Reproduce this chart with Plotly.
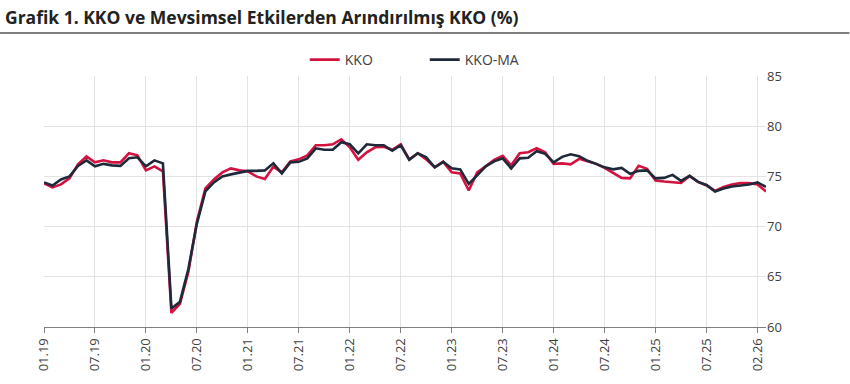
import plotly.graph_objects as go

tick_labels = ["01.19", "07.19", "01.20", "07.20", "01.21", "07.21", "01.22", "07.22",
               "01.23", "07.23", "01.24", "07.24", "01.25", "07.25", "02.26"]
tick_positions = list(range(0, 85, 6))

kko = [74.3, 73.9, 74.2, 74.8, 76.2, 77.0, 76.4, 76.6, 76.4, 76.4,
       77.3, 77.1, 75.6, 76.0, 75.5, 61.4, 62.3, 65.5, 70.5, 73.8,
       74.7, 75.4, 75.8, 75.6, 75.5, 75.0, 74.75, 75.95, 75.4, 76.5,
       76.7, 77.1, 78.1, 78.1, 78.2, 78.7, 77.9, 76.65, 77.4, 77.9,
       77.95, 77.65, 78.2, 76.7, 77.3, 76.7, 75.9, 76.45, 75.4, 75.3,
       73.6, 75.4, 76.0, 76.65, 77.05, 76.1, 77.3, 77.4, 77.8, 77.4,
       76.25, 76.3, 76.2, 76.75, 76.5, 76.25, 75.85, 75.35, 74.85, 74.8,
       76.05, 75.75, 74.6, 74.5, 74.4, 74.35, 75.05, 74.45, 74.1, 73.55,
       73.95, 74.2, 74.35, 74.35, 74.2, 73.5]

kko_ma = [74.4, 74.1, 74.7, 75.0, 76.05, 76.6, 76.0, 76.25, 76.1, 76.05,
          76.8, 76.9, 76.0, 76.6, 76.3, 61.85, 62.5, 65.8, 70.3, 73.5,
          74.4, 75.0, 75.2, 75.4, 75.55, 75.55, 75.6, 76.3, 75.3, 76.4,
          76.45, 76.8, 77.8, 77.65, 77.65, 78.4, 78.2, 77.3, 78.2, 78.1,
          78.1, 77.55, 78.1, 76.65, 77.3, 76.9, 75.9, 76.45, 75.8, 75.7,
          74.25, 75.1, 76.0, 76.5, 76.8, 75.8, 76.8, 76.85, 77.5, 77.25,
          76.4, 76.95, 77.2, 77.0, 76.55, 76.25, 75.9, 75.7, 75.85, 75.25,
          75.55, 75.6, 74.8, 74.85, 75.15, 74.55, 75.05, 74.45, 74.15, 73.5,
          73.8, 74.0, 74.1, 74.2, 74.4, 73.95]

x_idx = list(range(len(kko)))

fig = go.Figure()
fig.add_trace(go.Scatter(x=x_idx, y=kko, mode="lines", name="KKO",
                         line=dict(color="#d4123f", width=2.6)))
fig.add_trace(go.Scatter(x=x_idx, y=kko_ma, mode="lines", name="KKO-MA",
                         line=dict(color="#1e2a3a", width=2.6)))

L, R, T, B = 44, 83.5, 76, 57
pw = 850 - L - R
ph = 384 - T - B

fig.update_layout(
    width=850, height=384,
    margin=dict(l=L, r=R, t=T, b=B),
    paper_bgcolor="white", plot_bgcolor="white",
    font=dict(family="Open Sans", size=13, color="#404040"),
    title=dict(text="<b>Grafik 1. KKO ve Mevsimsel Etkilerden Arındırılmış KKO (%)</b>",
               x=5 / 850, xanchor="left", y=1 - 18 / 384, yanchor="middle",
               font=dict(family="Open Sans", size=17.5, color="#222222")),
    showlegend=True,
    legend=dict(orientation="h", x=(425 - L) / pw, xanchor="center",
                y=(384 - B - 60) / ph, yanchor="middle",
                font=dict(size=14, color="#404040"), itemwidth=30,
                entrywidth=75, entrywidthmode="pixels",
                bgcolor="rgba(0,0,0,0)"),
    xaxis=dict(range=[0, 85], tickvals=tick_positions, ticktext=tick_labels,
               tickangle=-90, showgrid=True, gridcolor="#e3e3e3", gridwidth=1,
               showline=True, linecolor="#808080", linewidth=1,
               ticks="outside", ticklen=5, tickcolor="#808080",
               zeroline=False, tickfont=dict(size=13, color="#404040")),
    yaxis=dict(range=[60, 85], dtick=5, side="right", showgrid=True,
               gridcolor="#e3e3e3", gridwidth=1, zeroline=False,
               showline=False, ticks="", tickfont=dict(size=13, color="#404040")),
)

fig.add_shape(type="line", xref="paper", yref="paper",
              x0=-L / pw, x1=(850 - L) / pw,
              y0=(384 - B - 33) / ph, y1=(384 - B - 33) / ph,
              line=dict(color="#555555", width=1.5))

fig.write_html("out.html", config={"displayModeBar": False},
               post_script="document.body.style.margin='0';document.body.style.padding='0';")
